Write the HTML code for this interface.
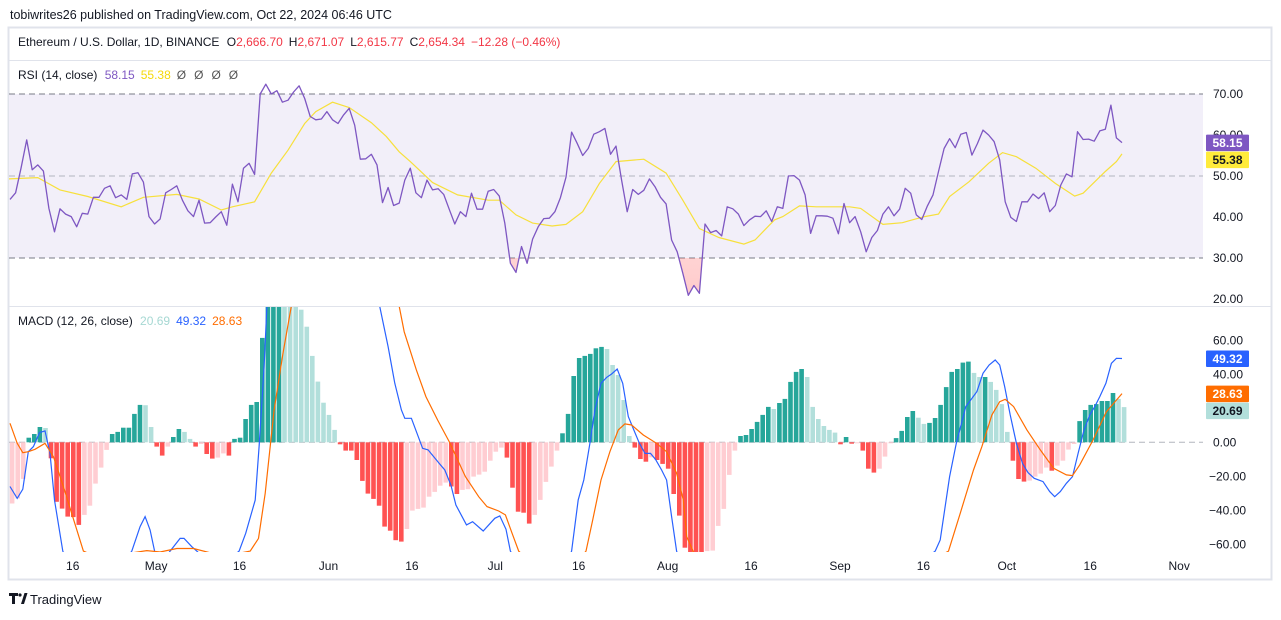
<!DOCTYPE html>
<html><head><meta charset="utf-8">
<style>
html,body{margin:0;padding:0;background:#fff;}
body{width:1281px;height:615px;overflow:hidden;font-family:"Liberation Sans",sans-serif;}
svg text{font-family:"Liberation Sans",sans-serif;}
</style></head>
<body>
<svg id="chart" width="1281" height="615" viewBox="0 0 1281 615" xmlns="http://www.w3.org/2000/svg">
  <defs>
    <clipPath id="rsiClip"><rect x="9" y="61" width="1194" height="244"/></clipPath>
    <clipPath id="osClip"><rect x="9" y="258" width="1194" height="50"/></clipPath>
    <clipPath id="macdClip"><rect x="9" y="307" width="1194" height="245"/></clipPath>
    <linearGradient id="osGrad" x1="0" y1="0" x2="0" y2="1">
      <stop offset="0" stop-color="#ff5252" stop-opacity="0.05"/>
      <stop offset="1" stop-color="#ff5252" stop-opacity="0.3"/>
    </linearGradient>
  </defs>
  <text x="10" y="19" font-size="12.5" fill="#131722">tobiwrites26 published on TradingView.com, Oct 22, 2024 06:46 UTC</text>
  <rect x="8.5" y="27.5" width="1263" height="552" fill="none" stroke="#e0e3eb" stroke-width="2"/>
  <line x1="9" y1="60.5" x2="1271" y2="60.5" stroke="#e0e3eb"/>
  <text x="18" y="46" font-size="12" fill="#131722">Ethereum / U.S. Dollar, 1D, BINANCE <tspan dx="4">O</tspan><tspan fill="#f23645">2,666.70</tspan><tspan dx="6">H</tspan><tspan fill="#f23645">2,671.07</tspan><tspan dx="6">L</tspan><tspan fill="#f23645">2,615.77</tspan><tspan dx="6">C</tspan><tspan fill="#f23645">2,654.34</tspan><tspan dx="6" fill="#f23645">−12.28 (−0.46%)</tspan></text>

  <rect x="9" y="94" width="1194" height="164" fill="#f2eff9"/>
  <g id="rsiGrid"></g>
  <g id="rsiMarks" clip-path="url(#rsiClip)"></g>
  <text x="18" y="79" font-size="12" fill="#131722">RSI (14, close) <tspan dx="4" fill="#7e57c2">58.15</tspan><tspan dx="6" fill="#f5d90a">55.38</tspan><tspan dx="6" fill="#555">Ø</tspan><tspan dx="8" fill="#555">Ø</tspan><tspan dx="8" fill="#555">Ø</tspan><tspan dx="8" fill="#555">Ø</tspan></text>
  <line x1="9" y1="306.5" x2="1271" y2="306.5" stroke="#e0e3eb"/>

  <g id="macdGrid"></g>
  <g id="macdMarks" clip-path="url(#macdClip)"></g>
  <text x="18" y="325" font-size="12" fill="#131722">MACD (12, 26, close) <tspan dx="4" fill="#a6d8d3">20.69</tspan><tspan dx="6" fill="#2962ff">49.32</tspan><tspan dx="6" fill="#ff6d00">28.63</tspan></text>

  <g id="axisLabels"></g>
  <g id="xAxis"></g>

  <g>
    <path d="M9 593h9v3h-3v8h-3v-8h-3z" fill="#131722"/>
    <circle cx="20" cy="595" r="1.6" fill="#131722"/>
    <path d="M21 604l3.5-11h3l-3.5 11z" fill="#131722"/>
    <text x="30" y="604" font-size="13" fill="#131722">TradingView</text>
  </g>
</svg>
<script>
const xTickLabels = ["16","May","16","Jun","16","Jul","16","Aug","16","Sep","16","Oct","16","Nov"];
const xTickDays = [12,27,42,58,73,88,103,119,134,150,165,180,195,211];
const rsiTicks = [70,60,50,40,30,20];
const macdTicks = [60,40,0,-20,-40,-60];
const rsi = [44.3,45.9,52,58.8,51.5,52.7,51.2,42.1,36.4,42.0,
40.7,40.1,37.6,40.9,40.7,44.8,44.8,47.0,47.6,44.7,
45.4,44.3,50.5,50.8,48.5,40.1,38.3,39.5,45.9,46.7,
47.6,44.1,41.5,40.1,44.1,38.5,38.6,40.0,41.3,38.0,
48.0,43.7,51.9,53.1,50.4,70,72.4,70,70.8,68.0,
68.5,70.5,72.0,68.9,64.5,63.7,63.9,65.7,63.7,62.8,
64.9,66.5,62.4,54.1,54.2,55.3,52.7,43.5,47.2,42.8,
43.4,49.0,51.9,45.9,44.7,49.0,46.6,46.9,45.5,41.9,
38.3,41.3,40.1,45.8,41.9,41.9,46.3,46.7,45.1,38.5,
28.7,26.5,32.8,28.7,34.6,37.6,39.6,39.7,41.3,44.7,
49.7,60.7,58.0,55.0,56.7,60.2,60.8,61.6,55.3,57.3,
49.0,41.3,46.7,45.5,46.5,49.3,47.4,44.8,43.2,34.4,
31.5,26.3,20.9,23.3,21.4,38.3,36.2,36.7,35.4,42.5,
42.0,40.7,37.9,39.3,40.2,40.1,41.5,38.9,42.5,42.1,
50.0,50.1,49.0,45.4,36.0,40.3,40.3,40.2,39.7,35.9,
43.3,38.6,40.1,36.4,31.5,35.0,36.7,40.7,42.5,40.3,
41.9,47.0,45.8,40.5,39.4,42.7,45.4,51.1,56.7,59.1,
56.9,60.2,60.6,55.1,57.9,61.2,60.0,58.4,53.9,43.7,
39.9,38.9,43.7,43.7,45.6,44.5,45.9,41.3,42.8,47.8,
50.5,49.8,60.8,58.9,59.0,58.5,61.0,61.4,67.3,59.3,58.15];
const rsiSigDay = [-1.8,5,9,14,20,24,30,34,38,40,44,47,50,53,55,58,61,65,67.7,70,72,76,80.5,86,88,91,94,97.5,100,103,106,109,114,118,121,124,127.5,132,134,137.5,139,142,145,151,153,157,160.5,162,164.5,167,169,172.5,176,178.5,181,184.5,188,191.5,193,197,199,200];
const rsiSigVal = [49.2,49.6,46.6,45.0,42.5,44.8,45.5,44.4,41.7,42.5,43.7,50.7,56.3,62.8,65.7,68.0,66.7,63.0,59.6,55.9,53.5,48.4,45.4,44.1,44.1,40.5,38.5,37.8,38.2,41.3,48.2,53.5,54.1,50.7,44.1,37.2,35.0,33.4,34.4,39.3,40.1,42.7,42.5,42.5,42.1,38.2,38.6,39.2,40.1,40.7,45.0,48.6,53.1,55.7,54.7,51.9,48.2,45.1,45.8,51.1,53.5,55.38];
const hist = [-36,-33,-21.5,2.7,4.9,9.0,8.4,-9.4,-35,-39,
-43.7,-44,-48.6,-42.7,-37.3,-24.3,-14.9,-4.5,4.9,6.1,
8.6,8.6,16.7,22.0,21.8,9.0,-2.5,-7.8,-2.5,3.1,
7.8,6.1,2.0,-2.5,-1,-6.9,-9.6,-9.0,-6.5,-7.8,
2.0,2.7,13.7,22.0,23.7,61.4,85,92,98,96,
94,90,78,68,50.8,35.7,23.3,16.1,7.3,-1.2,
-4.9,-4.9,-10.4,-22.7,-30.2,-33.3,-37.3,-49.6,-52,-57.6,
-58.4,-51,-40.2,-39.2,-38.4,-32,-29.2,-25.5,-23.7,-26,
-30.4,-28,-27.6,-20.2,-19,-17.3,-10.8,-5.5,-3.1,-9,
-26.7,-40.8,-41.4,-47.8,-42.7,-33.9,-23.3,-14.3,-4.9,5.3,
16.7,39,49.6,50.8,52,55.3,56.1,54.9,45.5,39.6,
24.9,3.7,-3.1,-9.8,-11.4,-8.8,-10.4,-12.7,-15.5,-30.4,
-43.1,-62,-68,-70,-71,-64,-63.7,-49.2,-39.2,-19.2,
-4.9,3.7,4.3,7.8,12,16.1,20.8,19.6,23.1,25.5,
35.5,41.4,43.1,38.4,20.8,13.7,9.6,7.3,5.7,-1.2,
3.1,-0.8,-0.6,-4.9,-15.5,-17.8,-15.5,-8.4,-0.6,2.5,
6.7,14.9,18.4,14.5,10.8,11.4,14.3,22,32.5,41.4,
43.1,46.9,47.5,40.8,38.4,38.4,35.5,30.8,22.5,6.1,
-10.8,-21.6,-23.1,-22.5,-20.2,-18.4,-14.9,-16.7,-13.7,-10.8,
-4.3,-1,12.5,19,22,22.5,24.3,24.3,29,25.5,20.69];
const macdDay = [0,1.3,2.3,3.3,4.2,5.3,6.3,7.2,8,9.5,12,15,18,20.5,21.9,23.4,24.3,25.2,26,27.4,28.8,30.6,31.3,32.7,33.6,37,41.2,42.4,44.1,44.8,45.7,46.2,48,52,57,62,66.5,68,69.2,70.4,71,72.2,74.2,75.2,77.2,78.2,79.3,80.2,82.1,83.2,85.1,87.2,88.1,89.2,90,93,97,100,101,102.2,103.2,104.3,105.2,106.3,107.3,108.2,109.2,110.2,111.2,112.2,113.2,114.2,115.2,116.1,117.2,118.1,119,119.9,124,130,140,150,160,166.4,167.3,169,170.2,171.9,173.9,175,176.1,177.2,178,178.9,179.9,181,182.1,183.1,184.2,185.8,187,187.9,188.9,190,191.1,192.1,193.1,194.2,195.1,196,197.1,198.1,199,200];
const macdVal = [-26,-33,-27.6,-5.5,-2.5,5.7,6.7,-6.5,-34,-64,-82,-85,-78,-70,-64,-49.6,-43.7,-51.6,-64,-70,-64,-56.5,-56.5,-61.4,-64,-75,-64,-53.5,-34,-2.5,44.5,80,110,125,120,100,80,56.3,34.7,19,14.1,14.1,-3.5,-4.5,-12.4,-16.3,-25.1,-36.9,-48.6,-46.7,-52.2,-44.7,-43.3,-51.2,-64,-80,-82,-72,-64,-33.9,-22.2,-0.6,19,34.7,38.2,40.2,43.1,34.7,15.1,7.3,-0.6,-6.5,-6.5,-10,-16.3,-22.2,-43.7,-64,-100,-105,-95,-88,-80,-64,-57.5,-20.2,-0.6,21,29.8,40.6,45.5,48.4,45.5,32.7,16.1,-0.6,-12.4,-17.8,-21.2,-23.1,-29,-32,-29,-24.1,-20.2,-6.5,6.3,16.1,21,26.9,34.7,46.5,49.4,49.32];
const sigDay = [0,1.3,2.3,3.3,4.5,6.3,7.8,9.6,11.1,13.2,16,20,24.6,27,30,33,36,40,43.2,44.7,45.9,47.5,49.1,50.6,55,62,68,70,70.9,73.1,74.8,76.9,79,81.9,84.3,85.8,87.9,89.1,90.3,91.5,96,100,103.6,104.8,106.3,107.9,109.4,110.6,111.8,113.9,116.3,118.1,119.9,121.1,121.7,125,135,150,160,168.8,170.9,173.3,174.8,176.6,178,179,180.5,182.9,185.3,187.7,190,191.1,192.4,194.8,197.2,200];
const sigVal = [11.2,-0.6,-6.1,-5.5,-4.1,-0.6,-8.4,-26,-41.8,-64,-68,-66,-63.7,-64.5,-62.5,-62.5,-65,-66,-64,-56.5,-30,19,52.4,80,100,100,90,80,65,42.5,26.9,13.1,0.4,-20.2,-32,-37.8,-40.4,-42.7,-53.5,-64,-78,-78,-64,-45.7,-22.2,-5.5,7.3,10.8,10.2,4.3,-0.6,-5.5,-18.2,-33.9,-55.5,-80,-95,-88,-80,-64,-41.8,-16.3,-2.5,16.1,23.9,25.3,21,7.3,-4.5,-15.3,-19.2,-19.6,-13.3,1.4,18,28.63];

const NS = "http://www.w3.org/2000/svg";
const xDay = d => 10 + d * 5.56;
const yRsi = v => 94 + (70 - v) * 4.1;
const yMacd = v => 442.3 - v * 1.7;
function mk(tag, attrs, parent) {
  const el = document.createElementNS(NS, tag);
  for (const k in attrs) el.setAttribute(k, attrs[k]);
  parent.appendChild(el);
  return el;
}
const rsiGrid = document.getElementById('rsiGrid');
const rsiMarks = document.getElementById('rsiMarks');
const macdGrid = document.getElementById('macdGrid');
const macdMarks = document.getElementById('macdMarks');
const axisLabels = document.getElementById('axisLabels');
const xAxis = document.getElementById('xAxis');

[70, 50, 30].forEach(v => {
  const ln = mk('line', {x1: 9, x2: 1203, y1: yRsi(v), y2: yRsi(v), stroke: v === 50 ? '#b2b5be' : '#787b86', 'stroke-dasharray': '6 4', 'stroke-width': 1}, rsiGrid);
  
  
});
const osPts = rsi.map((v, i) => xDay(i).toFixed(1) + ',' + yRsi(v).toFixed(1));
const osPoly = mk('polygon', {points: xDay(0) + ',258 ' + osPts.join(' ') + ' ' + xDay(rsi.length - 1) + ',258', fill: 'url(#osGrad)', 'clip-path': 'url(#osClip)'}, rsiMarks);


const rsiSig = mk('polyline', {points: rsiSigDay.map((d, i) => xDay(d).toFixed(1) + ',' + yRsi(rsiSigVal[i]).toFixed(1)).join(' '), fill: 'none', stroke: '#f7e03c', 'stroke-width': 1.2}, rsiMarks);


const rsiLine = mk('polyline', {points: osPts.join(' '), fill: 'none', stroke: '#7e57c2', 'stroke-width': 1.3, 'stroke-linejoin': 'round'}, rsiMarks);



rsiTicks.forEach(v => {
  const t = mk('text', {x: 1213, y: yRsi(v) + 4, 'font-size': 12, fill: '#131722'}, axisLabels);
  t.textContent = v.toFixed(2);
  
  
});
const zl = mk('line', {x1: 9, x2: 1203, y1: yMacd(0), y2: yMacd(0), stroke: '#b2b5be', 'stroke-dasharray': '6 4'}, macdGrid);


hist.forEach((v, i) => {
  const prev = i > 0 ? hist[i - 1] : v;
  let col;
  if (v >= 0) col = v >= prev ? '#26a69a' : '#b2dfdb';
  else col = v <= prev ? '#ff5252' : '#ffcdd2';
  if (i === 0) col = '#ffcdd2';
  const y0 = yMacd(0), y1 = yMacd(v);
  const r = mk('rect', {x: (xDay(i) - 0.2).toFixed(1), y: Math.min(y0, y1).toFixed(1), width: 4.6, height: Math.max(0.8, Math.abs(y1 - y0)).toFixed(1), fill: col}, macdMarks);
  
  
});
const macdLine = mk('polyline', {points: macdDay.map((d, i) => xDay(d).toFixed(1) + ',' + yMacd(macdVal[i]).toFixed(1)).join(' '), fill: 'none', stroke: '#2962ff', 'stroke-width': 1.2}, macdMarks);


const sigLine = mk('polyline', {points: sigDay.map((d, i) => xDay(d).toFixed(1) + ',' + yMacd(sigVal[i]).toFixed(1)).join(' '), fill: 'none', stroke: '#ff6d00', 'stroke-width': 1.2}, macdMarks);


macdTicks.forEach(v => {
  const t = mk('text', {x: v < 0 ? 1209 : 1213, y: yMacd(v) + 4, 'font-size': 12, fill: '#131722'}, axisLabels);
  t.textContent = (v < 0 ? '\u2212' + Math.abs(v).toFixed(2) : v.toFixed(2));
  
  
});
const badges = [
  {y: yRsi(58.15) - 8, txt: '58.15', bg: '#7e57c2', fg: '#fff', name: 'rsi-value-badge'},
  {y: yRsi(58.15) + 9, txt: '55.38', bg: '#ffeb3b', fg: '#131722', name: 'rsi-signal-badge'},
  {y: yMacd(49.32) - 8, txt: '49.32', bg: '#2962ff', fg: '#fff', name: 'macd-value-badge'},
  {y: yMacd(28.63) - 8, txt: '28.63', bg: '#ff6d00', fg: '#fff', name: 'macd-signal-badge'},
  {y: yMacd(28.63) + 9, txt: '20.69', bg: '#b2dfdb', fg: '#131722', name: 'histogram-badge'}
];
badges.forEach(b => {
  const g = mk('g', {}, axisLabels);
  
  
  mk('rect', {x: 1206, y: b.y.toFixed(1), width: 43, height: 16.5, fill: b.bg, rx: 1}, g);
  const t = mk('text', {x: 1227.5, y: (b.y + 12.5).toFixed(1), 'font-size': 12, 'font-weight': 'bold', fill: b.fg, 'text-anchor': 'middle'}, g);
  t.textContent = b.txt;
});
xTickLabels.forEach((lab, i) => {
  const t = mk('text', {x: xDay(xTickDays[i]) - 4, y: 570, 'font-size': 12, fill: '#131722', 'text-anchor': 'middle'}, xAxis);
  t.textContent = lab;
  
  
});
</script>
</body></html>
